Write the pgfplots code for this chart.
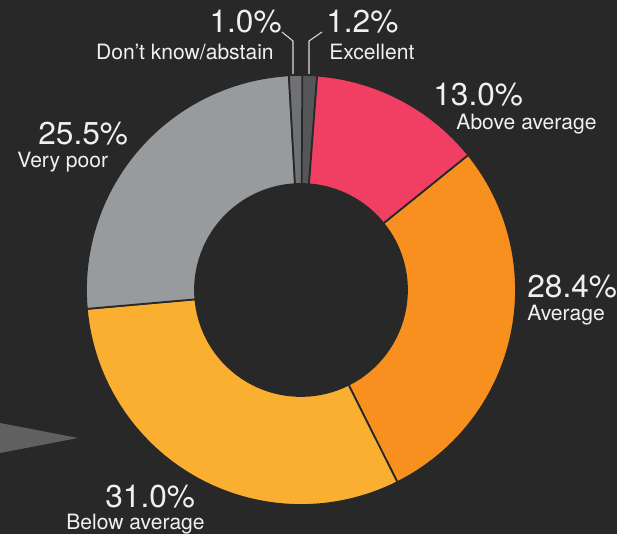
\documentclass[border=0pt]{standalone}
\usepackage{pgfplots}
\usepackage{pgfplotstable}
\pgfplotsset{compat=1.18}
\usepackage{fontspec}
\setmainfont{TeX Gyre Heros}

\definecolor{bgc}{HTML}{282828}
\definecolor{txt}{HTML}{F0F0F0}
\definecolor{cExc}{HTML}{555658}
\definecolor{cAbove}{HTML}{F03F63}
\definecolor{cAvg}{HTML}{F7901E}
\definecolor{cBelow}{HTML}{FBAF31}
\definecolor{cPoor}{HTML}{989B9E}
\definecolor{cDk}{HTML}{707174}

% shares in percent, clockwise from 12 o'clock
\pgfplotstableread{
value colour
1.2   cExc
13.0  cAbove
28.4  cAvg
31.0  cBelow
25.5  cPoor
1.0   cDk
}\shares
\pgfplotstablecreatecol[expr accum={\thisrow{value}+\pgfmathaccuma}{0}]{cum}{\shares}

\newcommand\pctfont{\fontsize{18}{20}\selectfont}
\newcommand\lblfont{\fontsize{12}{14}\selectfont}

\begin{document}
\begin{tikzpicture}
\begin{axis}[
  hide axis,
  disabledatascaling,
  x=1cm, y=1cm,
  anchor=origin, at={(0,0)},
  xmin=-6.02, xmax=6.32,
  ymin=-4.88, ymax=5.80,
  clip=false,
]
\pgfplotsextra{
  \fill[bgc] (-6.02,-4.88) rectangle (6.32,5.80);
  \fill[gray!75!black] (-6.02,-2.66) -- (-4.46,-2.96) -- (-6.02,-3.26) -- cycle;
  \pgfplotstablegetrowsof{\shares}
  \pgfmathtruncatemacro{\last}{\pgfplotsretval-1}
  \foreach \i in {0,...,\last}{
    \pgfplotstablegetelem{\i}{value}\of{\shares}\let\v\pgfplotsretval
    \pgfplotstablegetelem{\i}{cum}\of{\shares}\let\cu\pgfplotsretval
    \pgfplotstablegetelem{\i}{colour}\of{\shares}\let\sc\pgfplotsretval
    \pgfmathsetmacro{\aa}{90-3.6*(\cu-\v)}
    \pgfmathsetmacro{\ab}{90-3.6*\cu}
    \filldraw[fill=\sc, draw=bgc, line width=1pt, line join=round]
      ({4.3*cos(\aa)},{4.3*sin(\aa)}) arc[start angle=\aa, end angle=\ab, radius=4.3cm]
      -- ({2.12*cos(\ab)},{2.12*sin(\ab)}) arc[start angle=\ab, end angle=\aa, radius=2.12cm]
      -- cycle;
  }
  % leader lines
  \draw[txt!80!gray, line width=0.6pt] (-0.38,5.16) -- (-0.16,4.98) -- (-0.16,4.32);
  \draw[txt!80!gray, line width=0.6pt] (0.16,4.32) -- (0.16,4.98) -- (0.42,5.16);
}
\begin{scope}[every node/.style={text=txt, inner sep=0pt}]
\node[anchor=base east] at (-0.38,5.14) {\pctfont 1.0\%};
\node[anchor=base east] at (-0.54,4.61) {\lblfont Don’t know/abstain};
\node[anchor=base west] at (0.50,5.14) {\pctfont 1.2\%};
\node[anchor=base west] at (0.56,4.61) {\lblfont Excellent};
\node[anchor=base west] at (2.64,3.68) {\pctfont 13.0\%};
\node[anchor=base west] at (3.10,3.21) {\lblfont Above average};
\node[anchor=base west] at (4.52,-0.16) {\pctfont 28.4\%};
\node[anchor=base west] at (4.52,-0.61) {\lblfont Average};
\node[anchor=base west] at (-5.26,2.90) {\pctfont 25.5\%};
\node[anchor=base west] at (-5.68,2.45) {\lblfont Very poor};
\node[anchor=base west] at (-3.92,-4.36) {\pctfont 31.0\%};
\node[anchor=base west] at (-4.70,-4.79) {\lblfont Below average};
\end{scope}
\end{axis}
\pgfresetboundingbox
\path[use as bounding box] (-6.02,-4.88) rectangle (6.32,5.80);
\end{tikzpicture}
\end{document}
